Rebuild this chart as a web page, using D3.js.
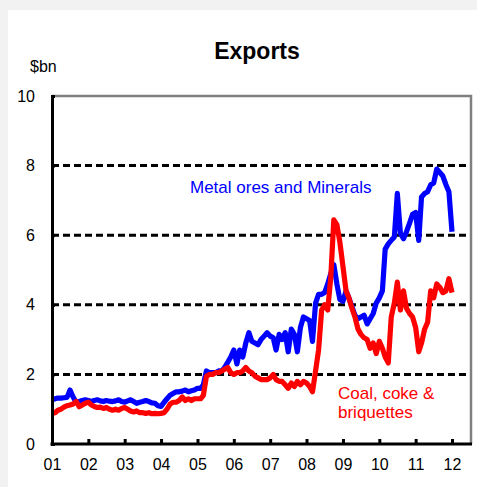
<html lang="en">
<head>
<meta charset="UTF-8">
<title>Exports</title>
<style>
  body { margin: 0; background-color: #f2f2f2; font-family: Arial, "Liberation Sans", sans-serif; }
  svg { display: block; }
</style>
<script src="https://d3js.org/d3.v7.min.js"></script>
</head>
<body>
<div id="chart"></div>
<script>
// monthly values, Jan 2001 .. Jan 2012 ($bn)
const startYear = 2001;
const metalOres = [
  1.27, 1.30, 1.32, 1.32, 1.33, 1.34, 1.55, 1.35, 1.20, 1.22, 1.25, 1.27,
  1.25, 1.22, 1.25, 1.27, 1.24, 1.22, 1.25, 1.23, 1.22, 1.24, 1.27, 1.22,
  1.20, 1.24, 1.27, 1.22, 1.17, 1.20, 1.22, 1.25, 1.22, 1.18, 1.17, 1.10,
  1.08, 1.20, 1.30, 1.40, 1.45, 1.50, 1.50, 1.52, 1.55, 1.50, 1.53, 1.55,
  1.60, 1.60, 1.70, 2.10, 2.05, 2.05, 2.05, 2.10, 2.10, 2.20, 2.35, 2.50,
  2.70, 2.30, 2.70, 2.50, 2.90, 3.20, 2.95, 2.90, 2.85, 3.00, 3.10, 3.20,
  3.10, 3.05, 2.70, 3.15, 3.00, 3.20, 2.65, 3.30, 3.15, 2.65, 3.35, 3.65,
  3.60, 3.55, 2.95, 4.05, 4.30, 4.30, 4.35, 4.60, 4.90, 5.15, 4.60, 4.15,
  4.10, 4.40, 4.20, 3.95, 3.70, 3.60, 3.65, 3.70, 3.45, 3.60, 3.75, 4.05,
  4.20, 4.40, 5.60, 5.75, 5.85, 5.95, 7.20, 6.05, 5.90, 6.10, 6.35, 6.60,
  6.65, 5.85, 7.10, 7.20, 7.25, 7.45, 7.50, 7.90, 7.80, 7.70, 7.45, 7.25,
  6.10
];
const coal = [
  0.88, 0.90, 0.97, 1.00, 1.06, 1.10, 1.12, 1.15, 1.22, 1.07, 1.12, 1.17,
  1.20, 1.12, 1.08, 1.05, 1.06, 1.02, 1.05, 1.00, 0.97, 1.00, 0.97, 1.02,
  1.05, 1.00, 0.95, 0.92, 0.95, 0.90, 0.90, 0.88, 0.90, 0.87, 0.88, 0.87,
  0.88, 0.90, 1.00, 1.15, 1.20, 1.20, 1.25, 1.35, 1.25, 1.30, 1.25, 1.30,
  1.30, 1.30, 1.40, 1.95, 2.00, 2.00, 2.05, 2.05, 2.10, 2.15, 2.20, 2.05,
  2.00, 2.05, 2.05, 2.10, 2.20, 2.10, 2.05, 1.95, 1.90, 1.85, 1.85, 1.85,
  1.90, 2.00, 1.85, 1.80, 1.80, 1.70, 1.60, 1.75, 1.65, 1.80, 1.70, 1.80,
  1.75, 1.65, 1.50, 2.10, 2.70, 3.85, 4.00, 3.85, 4.80, 6.44, 6.30, 5.80,
  5.10, 4.40, 4.20, 3.90, 3.65, 3.30, 3.15, 3.05, 3.00, 2.75, 2.90, 2.60,
  2.95, 2.75, 2.50, 2.33, 3.65, 4.05, 4.65, 3.85, 4.40, 3.90, 3.75, 3.65,
  3.35, 2.65, 2.90, 3.30, 3.50, 4.40, 4.20, 4.60, 4.50, 4.35, 4.40, 4.75,
  4.35
];
const yTicks = [0, 2, 4, 6, 8, 10];
const gridValues = [2, 4, 6, 8];
const yearLabels = ["01", "02", "03", "04", "05", "06", "07", "08", "09", "10", "11", "12"];

const W = 477, H = 487;
const svg = d3.select("#chart").append("svg")
  .attr("width", W)
  .attr("height", H);

// white panel
svg.append("rect")
  .attr("x", 8).attr("y", 10)
  .attr("width", W - 8).attr("height", H - 10)
  .attr("fill", "#ffffff");

const plotL = 52, plotR = 471, plotT = 96, plotB = 444;

const x = d3.scaleTime()
  .domain([new Date(startYear, 0, 1), new Date(2012, 0, 1)])
  .range([plotL, 452]);
const y = d3.scaleLinear().domain([0, 10]).range([plotB, plotT]);

const dateOf = i => new Date(startYear, i, 1);

// gridlines
svg.append("g").selectAll("line")
  .data(gridValues)
  .join("line")
  .attr("x1", plotL).attr("x2", plotR)
  .attr("y1", d => y(d)).attr("y2", d => y(d))
  .attr("stroke", "#000")
  .attr("stroke-width", 3)
  .attr("stroke-dasharray", "7,4");

// frame: top and right in grey
svg.append("path")
  .attr("d", `M${plotL},${plotT}H${plotR}V${plotB}`)
  .attr("fill", "none")
  .attr("stroke", "#808080")
  .attr("stroke-width", 2.5);

// lines
const line = d3.line()
  .x((d, i) => x(dateOf(i)))
  .y(d => y(d));

svg.append("path")
  .datum(metalOres)
  .attr("d", line)
  .attr("fill", "none")
  .attr("stroke", "#0000ff")
  .attr("stroke-width", 5.2)
  .attr("stroke-linejoin", "round");

svg.append("path")
  .datum(coal)
  .attr("d", line)
  .attr("fill", "none")
  .attr("stroke", "#ff0000")
  .attr("stroke-width", 5.2)
  .attr("stroke-linejoin", "round");

// y axis
const yAxis = d3.axisLeft(y)
  .tickValues(yTicks)
  .tickSize(0)
  .tickPadding(17)
  .tickFormat(d3.format("d"));
const gy = svg.append("g")
  .attr("transform", `translate(${plotL},0)`)
  .call(yAxis);
gy.select(".domain").attr("stroke", "#000").attr("stroke-width", 3);
gy.selectAll("text")
  .attr("font-size", 16)
  .attr("font-family", "Arial, 'Liberation Sans', sans-serif")
  .attr("fill", "#000");
// small ticks on the left axis
gy.selectAll(".tick").append("line")
  .attr("x1", -1).attr("x2", 3)
  .attr("stroke", "#000").attr("stroke-width", 3);

// x axis
const years = yearLabels.map((s, i) => new Date(startYear + i, 0, 1));
const xAxis = d3.axisBottom(x)
  .tickValues(years)
  .tickSize(-5)
  .tickPadding(15)
  .tickFormat((d, i) => yearLabels[i]);
const gx = svg.append("g")
  .attr("transform", `translate(0,${plotB})`)
  .call(xAxis);
gx.select(".domain")
  .attr("d", `M${plotL - 1.5},0H${plotR + 1}`)
  .attr("stroke", "#000").attr("stroke-width", 3);
gx.selectAll(".tick line").attr("stroke", "#000").attr("stroke-width", 3);
gx.selectAll("text")
  .attr("font-size", 16)
  .attr("font-family", "Arial, 'Liberation Sans', sans-serif")
  .attr("fill", "#000");

// title and unit
svg.append("text")
  .attr("x", 257).attr("y", 59)
  .attr("text-anchor", "middle")
  .attr("font-size", 23)
  .attr("font-weight", "bold")
  .attr("fill", "#000")
  .text("Exports");

svg.append("text")
  .attr("x", 30).attr("y", 72)
  .attr("font-size", 16)
  .attr("fill", "#000")
  .text("$bn");

// series labels
svg.append("text")
  .attr("x", 190).attr("y", 193)
  .attr("font-size", 17)
  .attr("fill", "#0000ff")
  .text("Metal ores and Minerals");

const coalLabel = svg.append("text")
  .attr("x", 338).attr("y", 399)
  .attr("font-size", 17)
  .attr("fill", "#ff0000");
coalLabel.append("tspan").attr("x", 338).text("Coal, coke &");
coalLabel.append("tspan").attr("x", 338).attr("dy", 19).text("briquettes");
</script>
</body>
</html>
